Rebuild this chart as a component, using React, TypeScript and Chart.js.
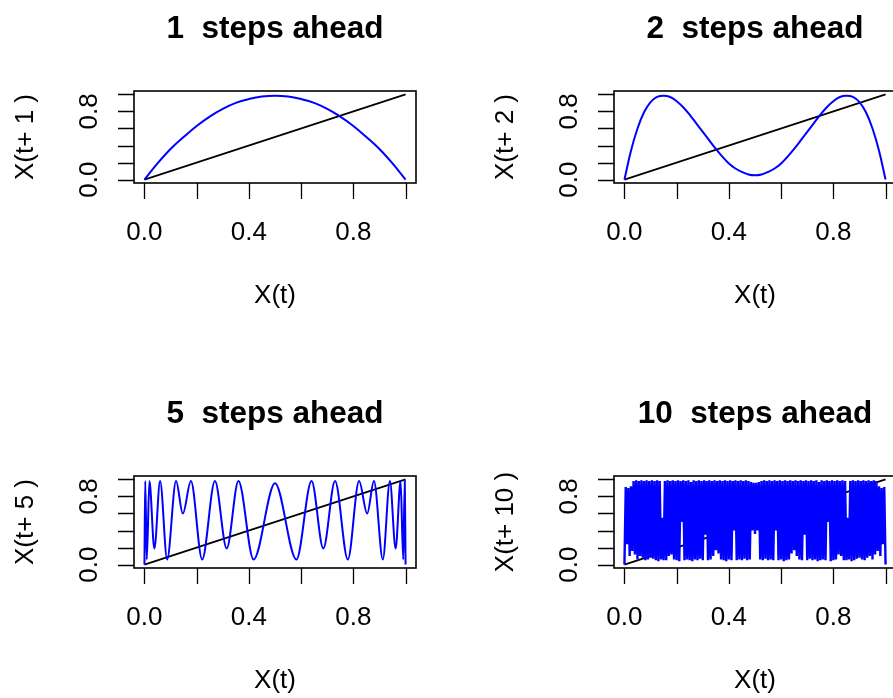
import React, { useEffect, useRef } from "react";
import { Chart, registerables } from "chart.js";

Chart.register(...registerables);

// ---------- text ----------
const TITLES = ["1  steps ahead", "2  steps ahead", "5  steps ahead", "10  steps ahead"];
const Y_LABELS = ["X(t+ 1 )", "X(t+ 2 )", "X(t+ 5 )", "X(t+ 10 )"];
const X_LABEL = "X(t)";
const AXIS_TICKS = [0, 0.2, 0.4, 0.6, 0.8, 1.0];
const X_TICK_LABELS = ["0.0", "0.4", "0.8"];
const X_TICK_VALUES = [0, 0.4, 0.8];
const Y_TICK_LABELS = ["0.0", "0.8"];
const Y_TICK_VALUES = [0, 0.8];

// ---------- reference line X(t+k) = X(t) ----------
const DIAG_X = [0, 1];
const DIAG_Y = [0, 1];

// ---------- 1 step ahead ----------
const X1 = [0, 0.05, 0.1, 0.15, 0.2, 0.25, 0.3, 0.35, 0.4, 0.45, 0.5, 0.55, 0.6, 0.65, 0.7, 0.75, 0.8, 0.85, 0.9, 0.95, 1];
const Y1 = [0, 0.19, 0.36, 0.5, 0.63, 0.74, 0.83, 0.9, 0.945, 0.975, 0.985, 0.975, 0.945, 0.9, 0.83, 0.74, 0.63, 0.5, 0.36, 0.19, 0];

// ---------- 2 steps ahead ----------
const X2 = [0, 0.025, 0.05, 0.075, 0.1, 0.125, 0.15, 0.175, 0.2, 0.225, 0.25, 0.275, 0.3, 0.325, 0.35, 0.375, 0.4, 0.425, 0.45, 0.475, 0.5,
  0.525, 0.55, 0.575, 0.6, 0.625, 0.65, 0.675, 0.7, 0.725, 0.75, 0.775, 0.8, 0.825, 0.85, 0.875, 0.9, 0.925, 0.95, 0.975, 1];
const Y2 = [0, 0.34, 0.6, 0.79, 0.91, 0.97, 0.985, 0.97, 0.92, 0.85, 0.76, 0.66, 0.56, 0.46, 0.36, 0.27, 0.19, 0.13, 0.09, 0.06, 0.05,
  0.06, 0.09, 0.13, 0.19, 0.27, 0.36, 0.46, 0.56, 0.66, 0.76, 0.85, 0.92, 0.97, 0.985, 0.97, 0.91, 0.79, 0.6, 0.34, 0];

// ---------- 5 steps ahead (peaks and troughs) ----------
const X5 = [0, 0.003, 0.009, 0.019, 0.038, 0.06, 0.087, 0.121, 0.147, 0.178, 0.221, 0.27, 0.315, 0.36, 0.418, 0.5,
  0.582, 0.64, 0.685, 0.73, 0.779, 0.822, 0.853, 0.879, 0.913, 0.94, 0.962, 0.981, 0.991, 0.997, 1];
const Y5 = [0, 0.98, 0.06, 0.98, 0.19, 0.98, 0.06, 0.98, 0.6, 0.98, 0.06, 0.98, 0.19, 0.98, 0.06, 0.955,
  0.06, 0.98, 0.19, 0.98, 0.06, 0.98, 0.6, 0.98, 0.06, 0.98, 0.19, 0.98, 0.06, 0.98, 0];

// ---------- 10 steps ahead (dense oscillation, evenly spaced over X(t)) ----------
const Y10 = [
  0.0, 0.91, 0.24, 0.9, 0.1, 0.92, 0.16, 0.98, 0.12, 0.99,
  0.06, 0.98, 0.1, 0.99, 0.08, 0.98, 0.05, 0.99, 0.06, 0.98,
  0.08, 0.99, 0.07, 0.98, 0.05, 0.99, 0.04, 0.98, 0.06, 0.55,
  0.05, 0.98, 0.05, 0.99, 0.1, 0.98, 0.12, 0.99, 0.06, 0.98,
  0.05, 0.99, 0.04, 0.98, 0.5, 0.99, 0.05, 0.98, 0.06, 0.99,
  0.05, 0.97, 0.04, 0.99, 0.06, 0.98, 0.05, 0.99, 0.07, 0.98,
  0.05, 0.99, 0.35, 0.98, 0.05, 0.99, 0.06, 0.98, 0.1, 0.99,
  0.17, 0.98, 0.13, 0.99, 0.06, 0.98, 0.05, 0.99, 0.04, 0.98,
  0.06, 0.99, 0.05, 0.98, 0.4, 0.99, 0.05, 0.98, 0.06, 0.99,
  0.05, 0.98, 0.07, 0.99, 0.05, 0.98, 0.06, 0.97, 0.4, 0.96,
  0.36,
  0.96, 0.4, 0.97, 0.06, 0.98, 0.05, 0.99, 0.07, 0.98, 0.05,
  0.99, 0.06, 0.98, 0.05, 0.99, 0.4, 0.98, 0.05, 0.99, 0.06,
  0.98, 0.04, 0.99, 0.05, 0.98, 0.06, 0.99, 0.13, 0.98, 0.17,
  0.99, 0.1, 0.98, 0.06, 0.99, 0.05, 0.98, 0.35, 0.99, 0.05,
  0.98, 0.07, 0.99, 0.05, 0.98, 0.06, 0.99, 0.04, 0.97, 0.05,
  0.99, 0.06, 0.98, 0.05, 0.99, 0.5, 0.98, 0.04, 0.99, 0.05,
  0.98, 0.06, 0.99, 0.12, 0.98, 0.1, 0.99, 0.05, 0.98, 0.05,
  0.55, 0.06, 0.98, 0.04, 0.99, 0.05, 0.98, 0.07, 0.99, 0.08,
  0.98, 0.06, 0.99, 0.05, 0.98, 0.08, 0.99, 0.1, 0.98, 0.06,
  0.99, 0.12, 0.98, 0.16, 0.92, 0.1, 0.9, 0.24, 0.91, 0.0,
];
const X10 = Y10.map((_, i) => i / (Y10.length - 1));

const SERIES_X = [X1, X2, X5, X10];
const SERIES_Y = [Y1, Y2, Y5, Y10];

const FONT = '"Liberation Sans", Arial, Helvetica, sans-serif';

function pairs(xs: number[], ys: number[]) {
  return xs.map((x, i) => ({ x, y: ys[i] }));
}

function Panel({ idx }: { idx: number }) {
  const ref = useRef<HTMLCanvasElement | null>(null);
  useEffect(() => {
    const canvas = ref.current;
    if (!canvas) return;
    const decor = {
      id: "decor" + idx,
      afterDatasetsDraw(chart: any) {
        const { ctx, chartArea: a, scales } = chart;
        const xs = scales.x;
        const ys = scales.y;
        ctx.save();
        ctx.strokeStyle = "#000";
        ctx.fillStyle = "#000";
        ctx.lineWidth = 1.6;
        ctx.strokeRect(a.left, a.top, a.right - a.left, a.bottom - a.top);
        ctx.lineWidth = 1.3;
        ctx.beginPath();
        for (const v of AXIS_TICKS) {
          const px = Math.round(xs.getPixelForValue(v)) + 0.5;
          ctx.moveTo(px, a.bottom);
          ctx.lineTo(px, a.bottom + 16);
        }
        for (const v of AXIS_TICKS) {
          const py = Math.round(ys.getPixelForValue(v)) + 0.5;
          ctx.moveTo(a.left, py);
          ctx.lineTo(a.left - 16, py);
        }
        ctx.stroke();

        ctx.font = `26px ${FONT}`;
        ctx.textAlign = "center";
        ctx.textBaseline = "alphabetic";
        X_TICK_VALUES.forEach((v, i) => {
          ctx.fillText(X_TICK_LABELS[i], xs.getPixelForValue(v), a.bottom + 57);
        });
        Y_TICK_VALUES.forEach((v, i) => {
          ctx.save();
          ctx.translate(a.left - 37, ys.getPixelForValue(v));
          ctx.rotate(-Math.PI / 2);
          ctx.fillText(Y_TICK_LABELS[i], 0, 0);
          ctx.restore();
        });
        ctx.fillText(X_LABEL, (a.left + a.right) / 2, a.bottom + 120);
        ctx.save();
        ctx.translate(a.left - 101, (a.top + a.bottom) / 2);
        ctx.rotate(-Math.PI / 2);
        ctx.fillText(Y_LABELS[idx], 0, 0);
        ctx.restore();

        ctx.font = `bold 31.5px ${FONT}`;
        ctx.fillText(TITLES[idx], (a.left + a.right) / 2, a.top - 53);
        ctx.restore();
      },
    };

    const blue: any = {
      data: pairs(SERIES_X[idx], SERIES_Y[idx]),
      borderColor: "#0000FF",
      borderWidth: idx === 3 ? 2.4 : 2,
      pointRadius: 0,
      fill: false,
      order: 0,
      tension: idx < 2 ? 0.4 : 0,
      cubicInterpolationMode: idx === 2 ? "monotone" : "default",
    };
    const black: any = {
      data: pairs(DIAG_X, DIAG_Y),
      borderColor: "#000000",
      borderWidth: 1.7,
      pointRadius: 0,
      fill: false,
      order: 1,
      tension: 0,
    };

    const chart = new Chart(canvas, {
      type: "line",
      data: { datasets: [blue, black] },
      options: {
        animation: false,
        responsive: false,
        devicePixelRatio: 1,
        events: [],
        layout: { padding: { left: 134, right: 64, top: 91, bottom: 202 } },
        plugins: { legend: { display: false }, tooltip: { enabled: false }, title: { display: false } },
        scales: {
          x: { type: "linear", min: -0.04, max: 1.04, display: false },
          y: { type: "linear", min: -0.04, max: 1.04, display: false },
        },
      },
      plugins: [decor],
    });
    return () => chart.destroy();
  }, [idx]);

  const left = (idx % 2) * 480;
  const top = Math.floor(idx / 2) * 385;
  return (
    <canvas
      ref={ref}
      width={480}
      height={385}
      style={{ position: "absolute", left, top, width: 480, height: 385 }}
    />
  );
}

export default function App() {
  return (
    <div
      style={{
        position: "fixed",
        left: 0,
        top: 0,
        width: 893,
        height: 698,
        overflow: "hidden",
        background: "#ffffff",
      }}
    >
      {[0, 1, 2, 3].map((i) => (
        <Panel key={i} idx={i} />
      ))}
    </div>
  );
}
